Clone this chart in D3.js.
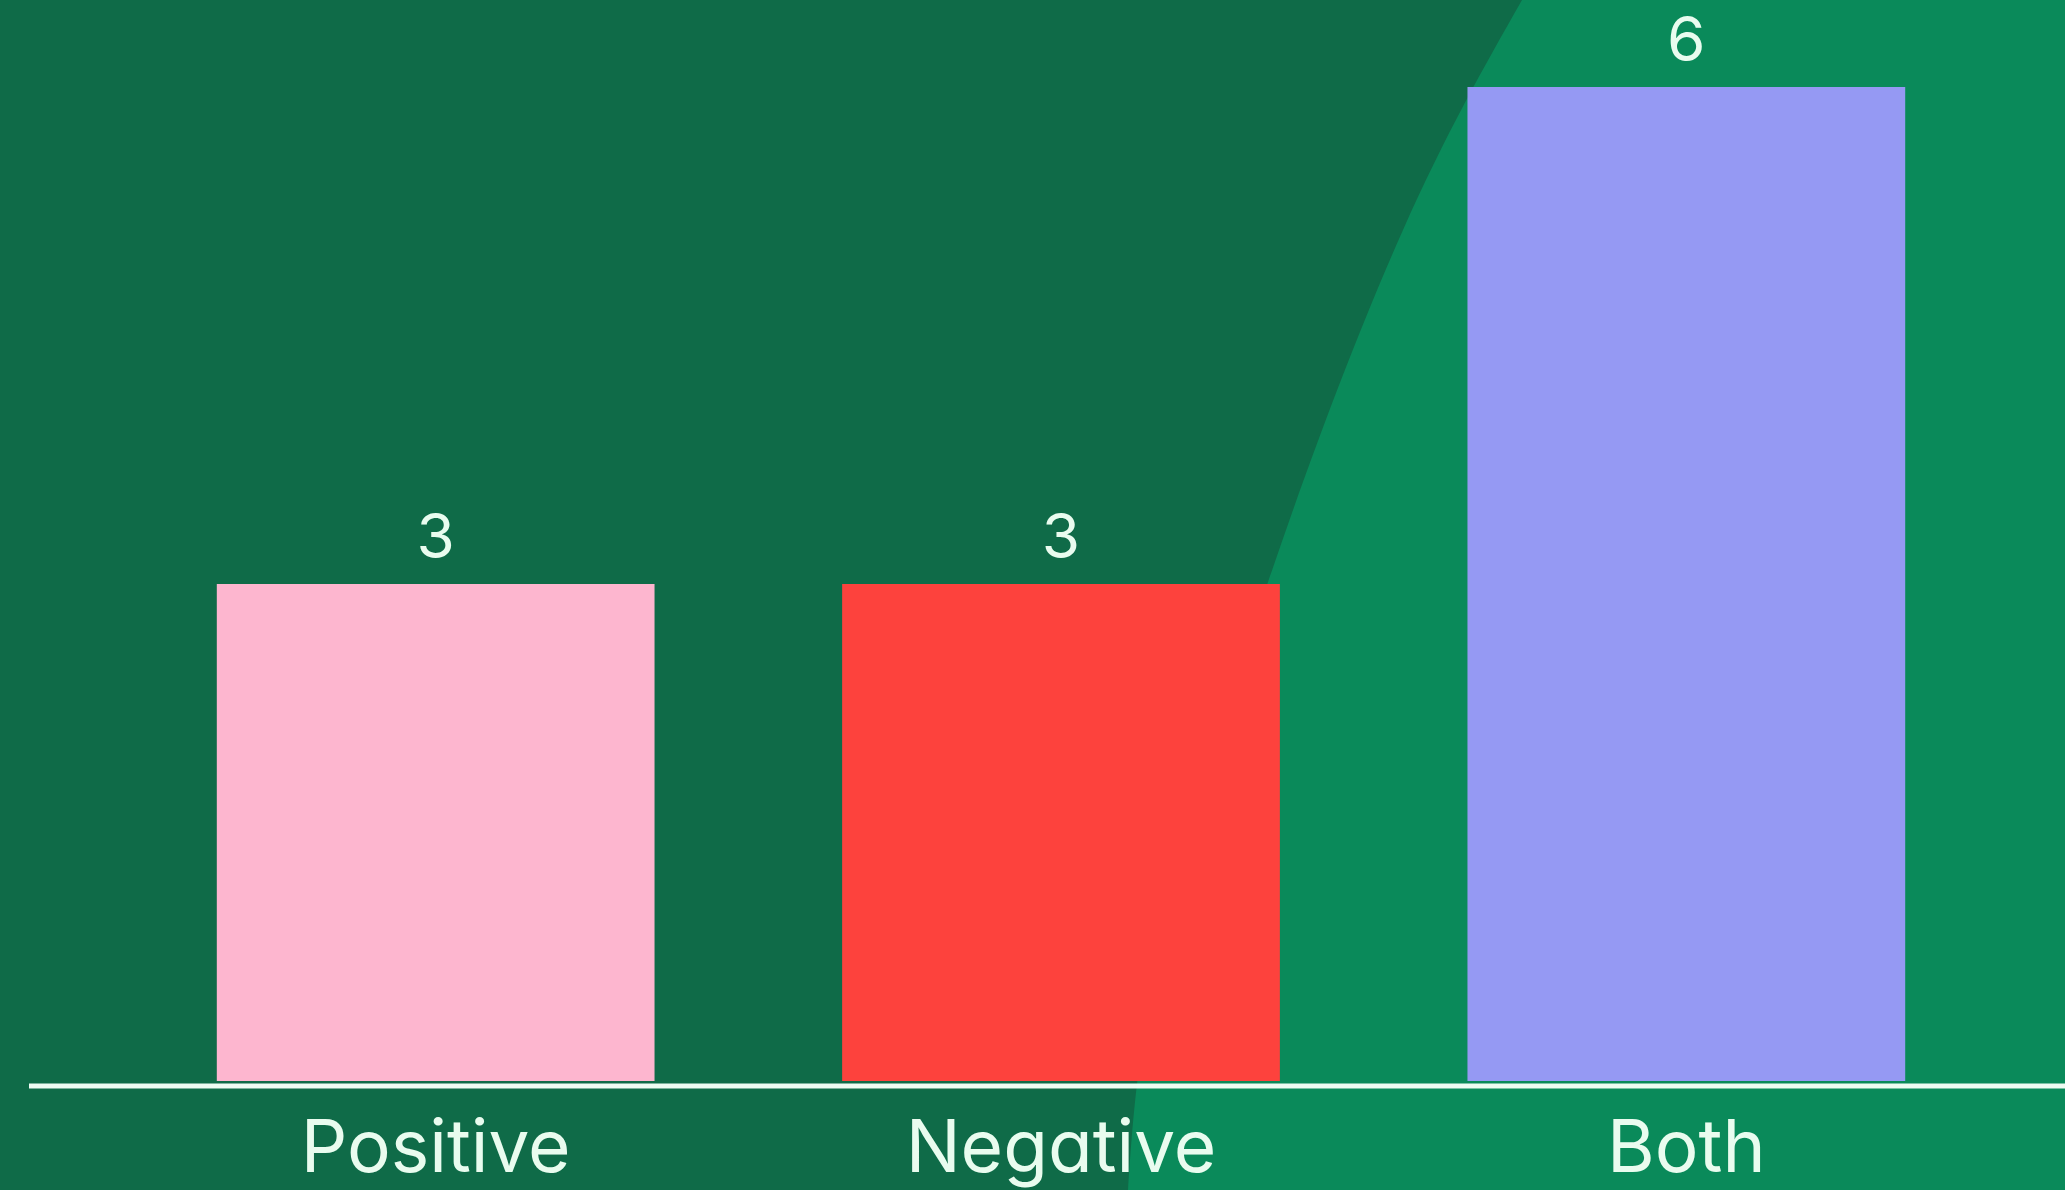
<!DOCTYPE html>
<html>
<head>
<meta charset="utf-8">
<script src="https://cdn.jsdelivr.net/npm/d3@7"></script>
<style>
  html, body { margin: 0; padding: 0; background: #0f6b48; }
  svg { display: block; }
  text { font-family: Inter, "Open Sans", sans-serif; font-feature-settings: "cv11"; fill: #e9fcef; }
</style>
</head>
<body>
<script>
// Chart data
const categories = ["Positive", "Negative", "Both"];
const counts = [3, 3, 6];
const barColors = ["#fdb6cf", "#fd423d", "#9599f3"];

const W = 2065, H = 1190;
const svg = d3.select("body").append("svg")
  .attr("width", W).attr("height", H);

// Two-tone backdrop: dark green field with a lighter green sweep on the right
svg.append("rect").attr("width", W).attr("height", H).attr("fill", "#0f6b48");
const sweep = [[1522, 0], [1403, 230], [1268, 582], [1160, 950], [1128, H]];
const sweepPath = d3.line().curve(d3.curveNatural)(sweep);
svg.append("path")
  .attr("d", sweepPath + `L${W},${H}L${W},0Z`)
  .attr("fill", "#0a8a5a");

const x = d3.scaleBand().domain(categories).range([123, 1999]).paddingInner(0.3).paddingOuter(0.15);
const y = d3.scaleLinear().domain([0, 6]).range([1081, 87]);

// Bars
svg.selectAll("rect.bar").data(categories).join("rect")
  .attr("class", "bar")
  .attr("x", d => x(d))
  .attr("y", (d, i) => y(counts[i]))
  .attr("width", x.bandwidth())
  .attr("height", (d, i) => y(0) - y(counts[i]))
  .attr("fill", (d, i) => barColors[i]);

// Value labels above bars
svg.selectAll("text.value").data(categories).join("text")
  .attr("class", "value")
  .attr("x", d => x(d) + x.bandwidth() / 2)
  .attr("y", (d, i) => y(counts[i]) - 26)
  .attr("text-anchor", "middle")
  .attr("font-size", 62)
  .text((d, i) => counts[i]);

// Baseline axis
const axis = svg.append("g").attr("transform", `translate(0,${y(0) + 5})`)
  .call(d3.axisBottom(x).tickSize(0).tickPadding(0));
axis.select(".domain").attr("d", `M29,0H${W}`).attr("stroke", "#eefcf3").attr("stroke-width", 5);
axis.selectAll(".tick text")
  .attr("y", 86)
  .attr("dy", 0)
  .attr("font-size", 73)
  .attr("fill", "#e9fcef")
  .style("font-family", "Inter, 'Open Sans', sans-serif");
</script>
</body>
</html>
